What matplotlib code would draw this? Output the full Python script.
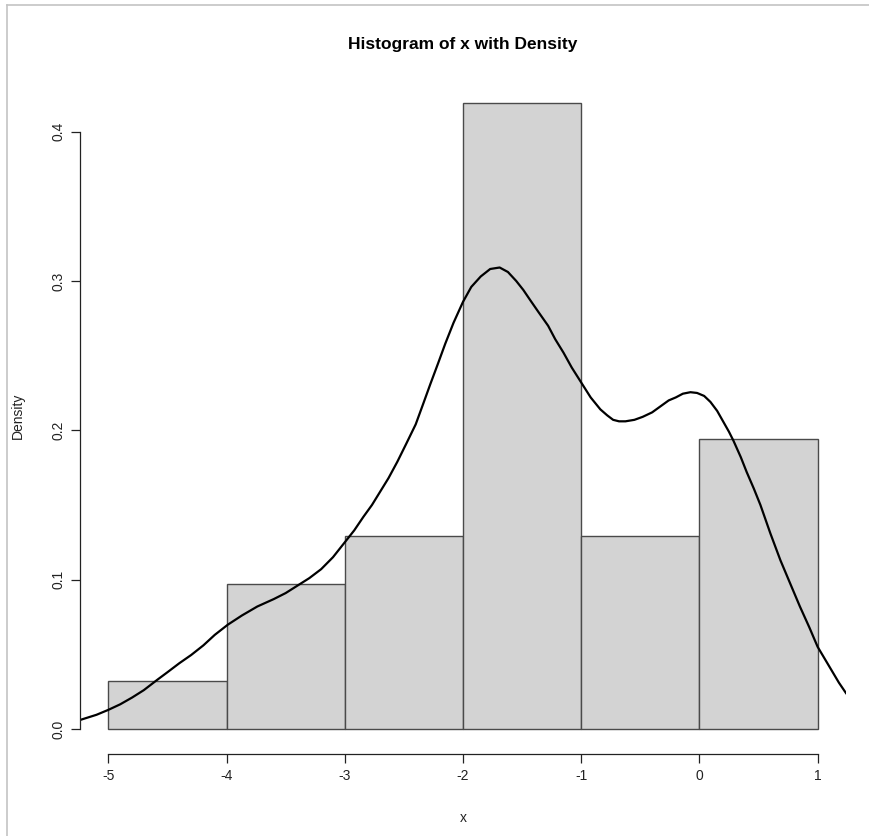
"""
Histogram of x with a density curve, drawn in the style of R base graphics.
"""

import matplotlib
matplotlib.use("Agg")

import matplotlib.pyplot as plt
from matplotlib.lines import Line2D


# histogram bins (breaks) and densities
breaks = [-5, -4, -3, -2, -1, 0, 1]
densities = [0.032, 0.097, 0.129, 0.419, 0.129, 0.194]

# density curve
curve_x = [
    -5.24, -5.1, -5.0, -4.9, -4.8, -4.7, -4.585, -4.5, -4.4, -4.3,
    -4.196, -4.1, -3.99, -3.87, -3.74, -3.6, -3.5, -3.4, -3.3, -3.2,
    -3.1, -3.0, -2.92, -2.843, -2.77, -2.7, -2.63, -2.555, -2.48, -2.4,
    -2.34, -2.276, -2.21, -2.15, -2.08, -2.0, -1.93, -1.85, -1.77, -1.69,
    -1.62, -1.55, -1.49, -1.43, -1.36, -1.28, -1.22, -1.15, -1.08, -1.0,
    -0.92, -0.838, -0.78, -0.73, -0.68, -0.626, -0.55, -0.48, -0.4, -0.33,
    -0.26, -0.2, -0.14, -0.076, -0.02, 0.04, 0.093, 0.15, 0.2, 0.25,
    0.288, 0.35, 0.4, 0.46, 0.516, 0.6, 0.685, 0.77, 0.85, 0.93,
    1.0, 1.06, 1.12, 1.18, 1.24,
]
curve_y = [
    0.006, 0.0095, 0.0128, 0.0165, 0.021, 0.026, 0.033, 0.038, 0.044, 0.0495,
    0.056, 0.063, 0.0698, 0.076, 0.082, 0.087, 0.091, 0.096, 0.101, 0.107,
    0.115, 0.125, 0.133, 0.142, 0.150, 0.159, 0.168, 0.179, 0.191, 0.204,
    0.217, 0.231, 0.245, 0.258, 0.272, 0.286, 0.296, 0.303, 0.308, 0.309,
    0.306, 0.300, 0.294, 0.287, 0.279, 0.270, 0.261, 0.252, 0.242, 0.232,
    0.222, 0.214, 0.210, 0.207, 0.206, 0.206, 0.207, 0.209, 0.212, 0.216,
    0.220, 0.222, 0.2245, 0.2255, 0.225, 0.223, 0.219, 0.213, 0.206, 0.199,
    0.193, 0.182, 0.172, 0.161, 0.150, 0.131, 0.113, 0.097, 0.082, 0.068,
    0.055, 0.047, 0.039, 0.031, 0.024,
]

x_ticks = [-5, -4, -3, -2, -1, 0, 1]
y_ticks = [0.0, 0.1, 0.2, 0.3, 0.4]

W, H = 869, 836

plt.rcParams["font.family"] = ["Liberation Sans", "DejaVu Sans"]


def main():

    fig = plt.figure(figsize=(W / 100, H / 100), dpi=100)

    # plot region in pixels: left 80, right 846, top 78, bottom 754
    ax = fig.add_axes([80 / W, 1 - 754 / H, 766 / W, 676 / H])

    widths = [b - a for a, b in zip(breaks[:-1], breaks[1:])]

    ax.bar(
        breaks[:-1],
        densities,
        width=widths,
        align="edge",
        color="#d3d3d3",
        edgecolor="#4a4a4a",
        linewidth=1.0,
    )

    ax.plot(curve_x, curve_y, color="black", linewidth=1.6,
            solid_joinstyle="round")

    ax.set_xlim(-5.24, 1.24)
    ax.set_ylim(-0.01677, 0.4359)

    for side in ("top", "right"):
        ax.spines[side].set_visible(False)

    ax.spines["left"].set_bounds(0, 0.4)
    ax.spines["bottom"].set_bounds(-5, 1)
    for side in ("left", "bottom"):
        ax.spines[side].set_color("#222222")
        ax.spines[side].set_linewidth(0.9)

    ax.set_xticks(x_ticks)
    ax.set_xticklabels([str(t) for t in x_ticks])
    ax.set_yticks(y_ticks)
    ax.set_yticklabels([f"{t:.1f}" for t in y_ticks], rotation=90, va="center")

    ax.tick_params(
        direction="out",
        length=6.5,
        width=0.9,
        color="#222222",
        labelsize=10,
        labelcolor="#222222",
        pad=4,
    )

    fig.text(463 / W, 1 - 44 / H, "Histogram of x with Density",
             ha="center", va="center", fontsize=12.5, fontweight="bold")
    fig.text(463 / W, 1 - 818 / H, "x", ha="center", va="center",
             fontsize=10, color="#222222")
    fig.text(18 / W, 1 - 416 / H, "Density", ha="center", va="center",
             rotation=90, fontsize=10, color="#222222")

    # thin grey frame at top and left of the screenshot
    fig.add_artist(Line2D([7 / W, 1], [1 - 5 / H, 1 - 5 / H],
                          color="#c4c4c4", linewidth=1.2))
    fig.add_artist(Line2D([7 / W, 7 / W], [0, 1 - 5 / H],
                          color="#c4c4c4", linewidth=1.2))

    fig.savefig("out.png", dpi=100)
    plt.close(fig)


if __name__ == "__main__":
    main()
